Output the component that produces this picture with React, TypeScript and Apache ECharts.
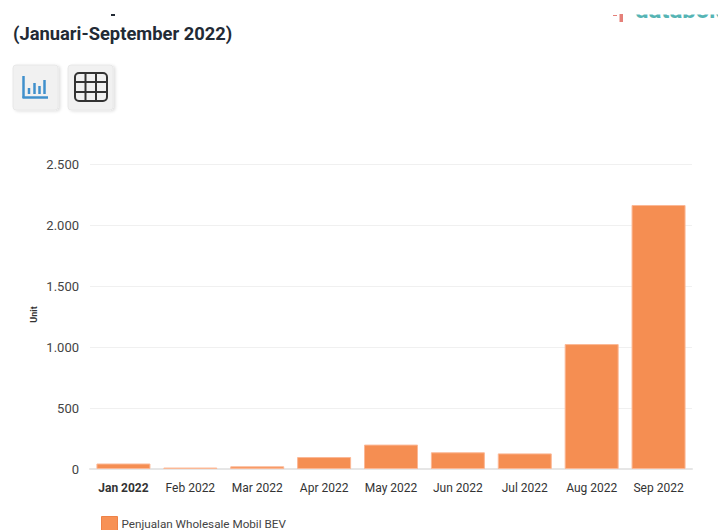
import React, { useEffect, useRef } from "react";
import * as echarts from "echarts";

const categories = ["Jan 2022", "Feb 2022", "Mar 2022", "Apr 2022", "May 2022", "Jun 2022", "Jul 2022", "Aug 2022", "Sep 2022"];
const salesValues = [45, 12, 22, 98, 200, 137, 128, 1024, 2164];
const seriesName = "Penjualan Wholesale Mobil BEV";
const subtitle = "(Januari-September 2022)";
const axisTitle = "Unit";
const brandText = "databoks";
const font = "Roboto";

const line = (x1: number, y1: number, x2: number, y2: number, stroke: string, lineWidth: number) => ({
  type: "line", shape: { x1, y1, x2, y2 }, style: { stroke, lineWidth }, silent: true,
});
const button = (x: number) => ({
  type: "rect", shape: { x, y: 65, width: 45, height: 45, r: 3 },
  style: { fill: "#f1f1f1", stroke: "#e8e8e8", lineWidth: 1, shadowBlur: 3, shadowOffsetX: 2, shadowOffsetY: 1, shadowColor: "rgba(0,0,0,0.12)" },
  silent: true,
});

const blue = "#4090cc";
const dark = "#333333";

export default function App() {
  const ref = useRef<HTMLDivElement>(null);
  useEffect(() => {
    document.body.style.margin = "0";
    const chart = echarts.init(ref.current!, undefined, { renderer: "svg" });
    chart.setOption({
      animation: false,
      backgroundColor: "#ffffff",
      textStyle: { fontFamily: font },
      grid: { left: 90, right: 26, top: 164, bottom: 61, containLabel: false },
      legend: {
        show: true, left: 101, top: 516, padding: 0, itemWidth: 16, itemHeight: 14, icon: "rect",
        itemGap: 5, itemStyle: { color: "#f79155", borderColor: "#ee8248", borderWidth: 1 },
        textStyle: { fontFamily: font, fontSize: 11.7, color: "#444444", padding: [3, 0, 0, -1] },
        data: [seriesName],
      },
      xAxis: {
        type: "category", data: categories,
        axisLine: { lineStyle: { color: "#e6e6e6", width: 2 } },
        axisTick: { show: false },
        axisLabel: {
          margin: 13, fontSize: 12, color: "#333333", fontFamily: font, interval: 0,
          formatter: (v: string, i: number) => (i === 0 ? `{b|${v}}` : v),
          rich: { b: { fontWeight: "bold", fontSize: 12, color: "#333333", fontFamily: font } },
        },
      },
      yAxis: {
        type: "value", min: 0, max: 2500, interval: 500,
        name: axisTitle, nameLocation: "middle", nameGap: 52, nameMoveOverlap: false,
        nameTextStyle: { fontSize: 9, fontWeight: "bold", color: "#333333", fontFamily: font, padding: [0, 0, 0, 4] },
        axisLine: { show: false }, axisTick: { show: false },
        axisLabel: {
          margin: 11, fontSize: 13, color: "#444444", fontFamily: font,
          formatter: (v: number) => String(v).replace(/\B(?=(\d{3})+$)/g, "."),
        },
        splitLine: { lineStyle: { color: "#f0f0f0", width: 1 } },
      },
      series: [{
        name: seriesName, type: "bar", data: salesValues, barWidth: 54,
        itemStyle: { color: "#f58e52", borderColor: "#fbb896", borderWidth: 1 },
      }],
      graphic: [
        { type: "text", x: 13, y: 24, silent: true, style: { text: subtitle, font: `bold 18.35px ${font}`, fill: "#222a35" } },
        { type: "text", x: 635, y: -2, silent: true, style: { text: brandText, font: `bold 24px ${font}`, fill: "#55b4b4" } },
        { type: "rect", shape: { x: 0, y: 0, width: 718, height: 14.5 }, style: { fill: "#ffffff" }, silent: true },
        { type: "rect", shape: { x: 111, y: 14, width: 4, height: 2 }, style: { fill: "#222a35" }, silent: true },
        { type: "rect", shape: { x: 619.5, y: 14, width: 3.5, height: 8 }, style: { fill: "#e58079" }, silent: true },
        { type: "rect", shape: { x: 613, y: 15, width: 4, height: 1 }, style: { fill: "#e58079" }, silent: true },
        button(13), button(68),
        line(23.5, 76, 23.5, 98, blue, 2.5),
        line(22.5, 97.5, 48, 97.5, blue, 2.5),
        line(29, 88, 29, 94, blue, 2.5),
        line(34.5, 83, 34.5, 94, blue, 2.5),
        line(39.5, 86, 39.5, 94, blue, 2.5),
        line(44.5, 80, 44.5, 94, blue, 2.5),
        { type: "rect", shape: { x: 75, y: 73, width: 32, height: 28, r: 4 }, style: { fill: "none", stroke: dark, lineWidth: 2 }, silent: true },
        line(85.5, 73, 85.5, 101, dark, 2),
        line(96, 73, 96, 101, dark, 2),
        line(75, 82, 107, 82, dark, 2),
        line(75, 92, 107, 92, dark, 2),
      ],
    });
    return () => chart.dispose();
  }, []);
  return <div ref={ref} style={{ width: 718, height: 530 }} />;
}
